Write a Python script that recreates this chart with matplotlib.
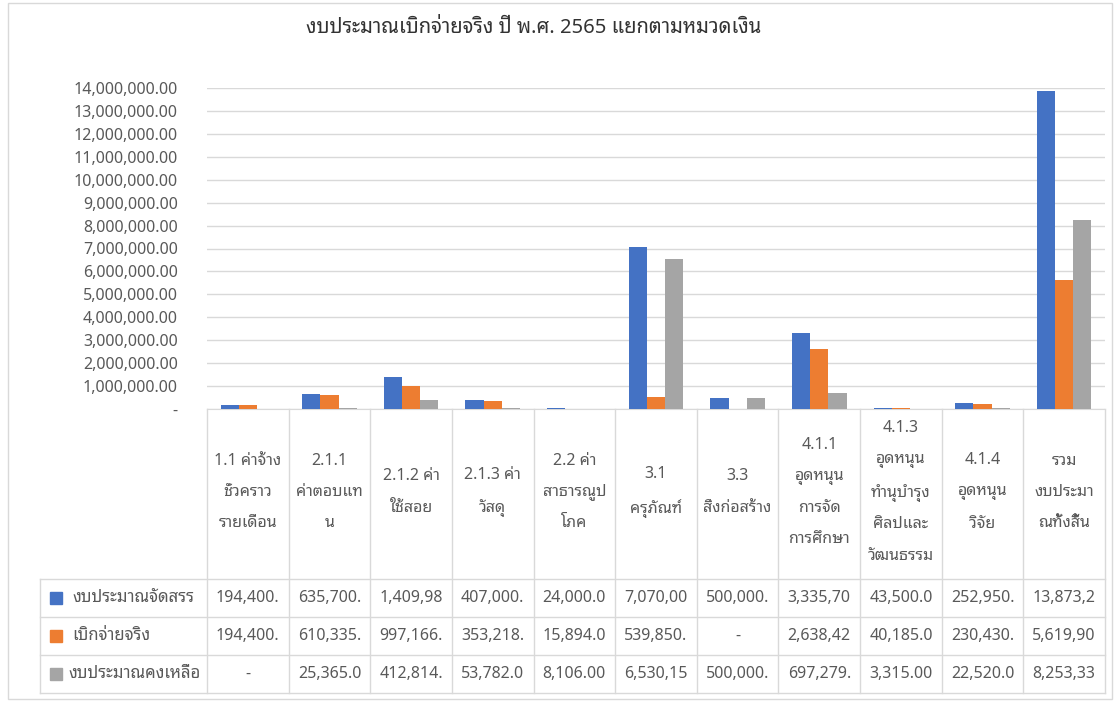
import matplotlib
matplotlib.use('Agg')
import matplotlib.pyplot as plt
from matplotlib.patches import Rectangle
from matplotlib.transforms import blended_transform_factory

plt.rcParams['font.family'] = ['Noto Sans Thai Looped', 'DejaVu Sans']
plt.rcParams['font.size'] = 11.5

TITLE = 'งบประมาณเบิกจ่ายจริง ปี พ.ศ. 2565 แยกตามหมวดเงิน'

categories = [
    '1.1 ค่าจ้าง\nชั่วคราว\nรายเดือน',
    '2.1.1\nค่าตอบแท\nน',
    '2.1.2 ค่า\nใช้สอย',
    '2.1.3 ค่า\nวัสดุ',
    '2.2 ค่า\nสาธารณูป\nโภค',
    '3.1\nครุภัณฑ์',
    '3.3\nสิ่งก่อสร้าง',
    '4.1.1\nอุดหนุน\nการจัด\nการศึกษา',
    '4.1.3\nอุดหนุน\nทำนุบำรุง\nศิลปและ\nวัฒนธรรม',
    '4.1.4\nอุดหนุน\nวิจัย',
    'รวม\nงบประมา\nณทั้งสิ้น',
]

series_names = ['งบประมาณจัดสรร', 'เบิกจ่ายจริง', 'งบประมาณคงเหลือ']
allocated = [194400, 635700, 1409980, 407000, 24000, 7070000, 500000,
             3335708, 43500, 252950, 13873238]
spent = [194400, 610335, 997166, 353218, 15894, 539850, 0,
         2638429, 40185, 230430, 5619907]
remaining = [0, 25365, 412814, 53782, 8106, 6530150, 500000,
             697279, 3315, 22520, 8253331]
colors = ['#4472C4', '#ED7D31', '#A5A5A5']

TEXT = '#595959'
GRID = '#D9D9D9'
W, H = 1119, 702


def fy(py):
    '''pixel row (from top) to figure fraction'''
    return 1 - py / H


def fx(px):
    return px / W


def cell_text(v):
    '''format like the excel data table, clipped to the cell width'''
    if v == 0:
        return '-'
    return f'{v:,.2f}'[:8]


fig = plt.figure(figsize=(W / 100, H / 100), dpi=100)
fig.patches.append(Rectangle((fx(8), fy(699)), fx(1104), fy(3) - fy(699),
                             transform=fig.transFigure, fill=False,
                             edgecolor=GRID, linewidth=1))
fig.text(fx(534), fy(28), TITLE, ha='center', va='center', fontsize=14.5,
         color='#333333')

x0, x1, ybase, ytop = 207, 1105, 409, 88
ax = fig.add_axes([fx(x0), fy(ybase), fx(x1 - x0), fy(ytop) - fy(ybase)])

n = len(categories)
bw = 0.223
data = [allocated, spent, remaining]
for i, vals in enumerate(data):
    xs = [k + (i - 1) * bw for k in range(n)]
    ax.bar(xs, vals, width=bw, color=colors[i], zorder=3)

ax.set_xlim(-0.5, n - 0.5)
ax.set_ylim(0, 14000000)
ax.set_yticks(range(0, 14000001, 1000000))
ax.set_yticklabels(['-'] + [f'{v:,.2f}' for v in range(1000000, 14000001, 1000000)])
ax.tick_params(axis='y', length=0, pad=21, colors=TEXT, labelsize=11.5)
ax.set_xticks([])
ax.grid(axis='y', color=GRID, linewidth=1, zorder=0)
for s in ['top', 'right', 'left']:
    ax.spines[s].set_visible(False)
ax.spines['bottom'].set_color(GRID)

# data table under the plot
tr = blended_transform_factory(ax.transData, fig.transFigure)
row_lines = [579, 617, 655, 693]
for k in range(n + 1):
    ax.plot([k - 0.5, k - 0.5], [fy(ybase), fy(row_lines[-1])], transform=tr,
            color=GRID, linewidth=1, clip_on=False)
for py in row_lines:
    fig.add_artist(plt.Line2D([fx(40), fx(x1)], [fy(py), fy(py)], color=GRID, linewidth=1))
fig.add_artist(plt.Line2D([fx(40), fx(40)], [fy(row_lines[0]), fy(row_lines[-1])],
                          color=GRID, linewidth=1))

for k, label in enumerate(categories):
    ax.text(k, fy(492), label, transform=tr, ha='center', va='center',
            color=TEXT, fontsize=11.5, linespacing=2.25)

for r, vals in enumerate(data):
    yc = fy((row_lines[r] + row_lines[r + 1]) / 2)
    fig.patches.append(Rectangle((fx(50), yc - 6 / H), fx(12), 12 / H,
                                 transform=fig.transFigure, color=colors[r]))
    fig.text(fx(72 if r < 2 else 68), yc, series_names[r], ha='left', va='center',
             color=TEXT, fontsize=12)
    for k, v in enumerate(vals):
        ax.text(k, yc, cell_text(v), transform=tr, ha='center', va='center',
                color=TEXT, fontsize=11.5)

fig.savefig('out.png', dpi=100)
